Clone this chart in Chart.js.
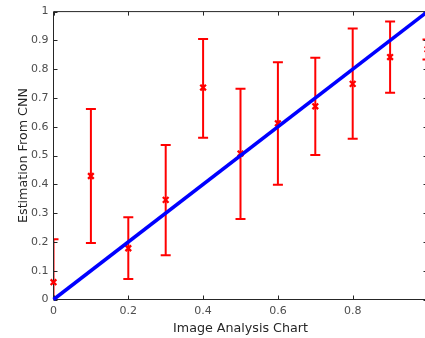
<!DOCTYPE html>
<html><head><meta charset="utf-8">
<script src="https://cdn.jsdelivr.net/npm/chart.js@4"></script>
<style>html,body{margin:0;padding:0;overflow:hidden;background:#fff;width:425px;height:338px}canvas{display:block}</style>
</head><body>
<canvas id="c" width="440" height="338"></canvas>
<script>
const xValues     = [0, 0.1, 0.2, 0.3, 0.4, 0.5, 0.6, 0.7, 0.8, 0.9, 1.0];
const estimates   = [0.060, 0.429, 0.178, 0.346, 0.736, 0.507, 0.612, 0.671, 0.749, 0.842, 0.869];
const lowerBounds = [-0.090, 0.196, 0.071, 0.154, 0.562, 0.280, 0.399, 0.502, 0.558, 0.718, 0.834];
const upperBounds = [0.209, 0.662, 0.286, 0.537, 0.905, 0.732, 0.824, 0.840, 0.941, 0.966, 0.903];
const idealX = [0, 1];
const idealY = [0, 1];
const xTicks = [0, 0.2, 0.4, 0.6, 0.8, 1];
const xTickLabels = ['0', '0.2', '0.4', '0.6', '0.8', '1'];
const yTicks = [0, 0.1, 0.2, 0.3, 0.4, 0.5, 0.6, 0.7, 0.8, 0.9, 1];
const yTickLabels = ['0', '0.1', '0.2', '0.3', '0.4', '0.5', '0.6', '0.7', '0.8', '0.9', '1'];

const FONT = "'DejaVu Sans', sans-serif";

const errorBars = {
  id: 'errorBars',
  beforeDatasetsDraw(chart) {
    const {ctx, chartArea: a, scales: {x, y}} = chart;
    ctx.save();
    ctx.beginPath();
    ctx.rect(a.left, a.top, a.right - a.left, a.bottom - a.top);
    ctx.clip();
    ctx.strokeStyle = '#ff0000';
    ctx.lineWidth = 2;
    ctx.lineCap = 'butt';
    xValues.forEach((xv, i) => {
      const px = x.getPixelForValue(xv);
      const pl = y.getPixelForValue(lowerBounds[i]);
      const pu = y.getPixelForValue(upperBounds[i]);
      ctx.beginPath();
      ctx.moveTo(px, pl); ctx.lineTo(px, pu);
      ctx.moveTo(px - 5, pl); ctx.lineTo(px + 5, pl);
      ctx.moveTo(px - 5, pu); ctx.lineTo(px + 5, pu);
      ctx.stroke();
    });
    ctx.restore();
  }
};

const frame = {
  id: 'frame',
  beforeDatasetsDraw(chart) {
    const {ctx, chartArea: a, scales: {x, y}} = chart;
    ctx.save();
    ctx.strokeStyle = '#262626';
    ctx.lineWidth = 1;
    ctx.beginPath();
    ctx.rect(a.left, a.top, a.right - a.left, a.bottom - a.top);
    ctx.stroke();
    ctx.beginPath();
    xTicks.forEach(v => {
      const px = Math.round(x.getPixelForValue(v)) + 0.5;
      ctx.moveTo(px, a.bottom); ctx.lineTo(px, a.bottom - 4);
      ctx.moveTo(px, a.top); ctx.lineTo(px, a.top + 4);
    });
    yTicks.forEach(v => {
      const py = Math.round(y.getPixelForValue(v)) + 0.5;
      ctx.moveTo(a.left, py); ctx.lineTo(a.left + 4, py);
      ctx.moveTo(a.right, py); ctx.lineTo(a.right - 4, py);
    });
    ctx.stroke();
    ctx.restore();
  }
};

new Chart(document.getElementById('c'), {
  type: 'scatter',
  data: {
    datasets: [
      {
        type: 'line',
        data: idealX.map((v, i) => ({x: v, y: idealY[i]})),
        borderColor: '#0000ff',
        borderWidth: 3.5,
        pointRadius: 0,
        fill: false,
        order: 0,
        clip: 2
      },
      {
        data: xValues.map((v, i) => ({x: v, y: estimates[i]})),
        pointStyle: 'crossRot',
        pointRadius: 4,
        borderColor: '#ff0000',
        backgroundColor: '#ff0000',
        pointBorderWidth: 2.3,
        order: 1,
        clip: 5
      }
    ]
  },
  options: {
    responsive: false,
    animation: false,
    events: [],
    layout: {padding: {top: 8.5, right: 12.5, left: 0, bottom: 0}},
    plugins: {legend: {display: false}, tooltip: {enabled: false}},
    scales: {
      x: {
        type: 'linear', min: 0, max: 1,
        afterFit(s) { s.height = 38.5; },
        afterBuildTicks(s) { s.ticks = xTicks.map(v => ({value: v})); },
        grid: {display: false, drawTicks: false},
        border: {display: false},
        ticks: {
          padding: 5,
          color: '#4d4d4d',
          font: {family: FONT, size: 11},
          maxRotation: 0,
          autoSkip: false,
          callback: (v) => xTickLabels[xTicks.indexOf(v)] ?? ''
        },
        title: {
          display: true, text: 'Image Analysis Chart',
          color: '#262626',
          font: {family: FONT, size: 12.7},
          padding: {top: 0, bottom: 2}
        }
      },
      y: {
        type: 'linear', min: 0, max: 1,
        afterFit(s) { s.width = 53.5; },
        afterBuildTicks(s) { s.ticks = yTicks.map(v => ({value: v})); },
        grid: {display: false, drawTicks: false},
        border: {display: false},
        ticks: {
          padding: 5,
          color: '#4d4d4d',
          font: {family: FONT, size: 11},
          autoSkip: false,
          callback: (v) => yTickLabels[yTicks.indexOf(v)] ?? ''
        },
        title: {
          display: true, text: 'Estimation From CNN',
          color: '#262626',
          font: {family: FONT, size: 12.7},
          padding: {top: 16, bottom: 0}
        }
      }
    }
  },
  plugins: [errorBars, frame]
});
</script>
</body></html>
